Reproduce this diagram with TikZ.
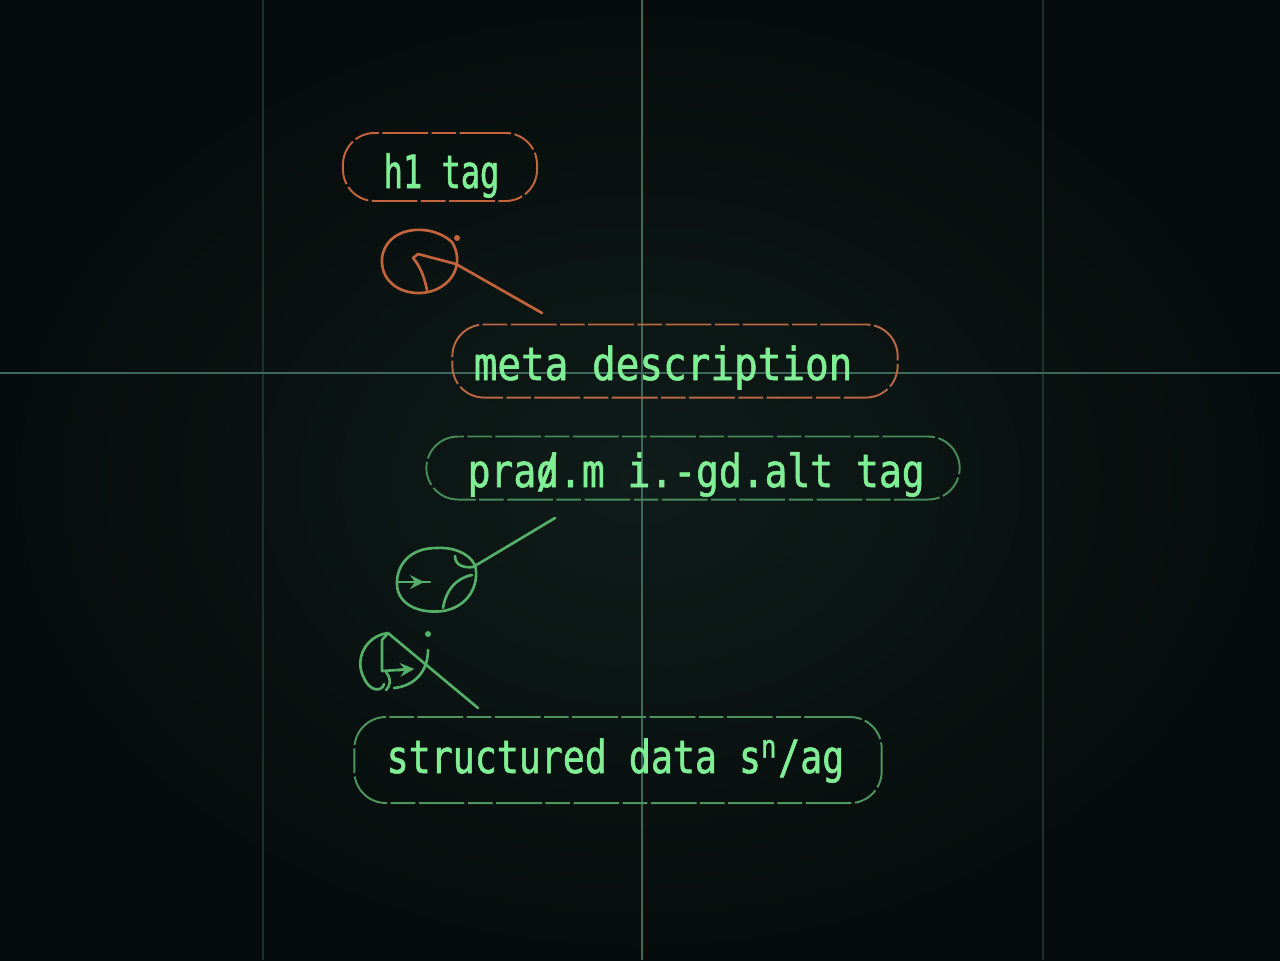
\documentclass[tikz,border=0pt]{standalone}
\usepackage{fontspec}
\newfontfamily\tagfont[FakeStretch=0.86,FakeBold=1.2]{DejaVu Sans Mono}
\newfontfamily\alttagfont[FakeStretch=0.83,FakeBold=1.2]{DejaVu Sans Mono}
\newfontfamily\datatagfont[FakeStretch=0.80,FakeBold=1.2]{DejaVu Sans Mono}
\newfontfamily\htagfont[FakeStretch=0.70,FakeBold=1.2]{DejaVu Sans Mono}
\usetikzlibrary{positioning}
\definecolor{bginner}{RGB}{15,28,25}
\definecolor{bgouter}{RGB}{6,12,11}
\definecolor{gridfaint}{RGB}{28,50,42}
\definecolor{gridmain}{RGB}{62,104,88}
\definecolor{tagtextcol}{RGB}{128,238,148}
\definecolor{penorange}{RGB}{196,100,60}
\definecolor{pengreen}{RGB}{84,176,104}
\definecolor{boxgreen}{RGB}{70,140,88}

\begin{document}
\begin{tikzpicture}[x=0.01cm,y=-0.01cm,
  tagbox/.style={draw=#1,line width=0.55pt,rounded corners=9pt,inner sep=0pt,
    dash pattern=on 13pt off 1pt on 7pt off 1pt},
  tagtext/.style={text=tagtextcol,inner sep=0pt,anchor=base west,
    font=\tagfont\fontsize{13pt}{15pt}\selectfont},
  scribble/.style={draw=#1,line width=0.75pt,line cap=round,line join=round}]
% background
\shade[inner color=bginner,outer color=bgouter] (0,0) rectangle (1280,960);
\useasboundingbox (0,0) rectangle (1280,960);
\draw[gridfaint,line width=0.5pt] (263,0) -- (263,960);
\draw[gridfaint,line width=0.5pt] (1043,0) -- (1043,960);
\draw[gridmain,line width=0.45pt] (642,0) -- (642,960);
\draw[gridmain,line width=0.6pt] (0,373) -- (1280,373);

% tag boxes
\node[tagbox=penorange,minimum width=1.94cm,minimum height=0.68cm] (h1box) at (440,167) {};
\node[tagbox=penorange!85!gray,minimum width=4.45cm,minimum height=0.73cm] (metabox) at (675,361) {};
\node[tagbox=boxgreen,minimum width=5.33cm,minimum height=0.63cm] (altbox) at (693,468) {};
\node[tagbox=boxgreen!90!tagtextcol,minimum width=5.27cm,minimum height=0.86cm] (databox) at (618,760) {};

\node[tagtext,font=\htagfont\fontsize{13pt}{15pt}\selectfont] (h1) at (383,188) {h1 tag};
\node[tagtext] (meta) at (473,380) {meta description};
\node[tagtext,font=\alttagfont\fontsize{13pt}{15pt}\selectfont] (alt) at (467,487) {pra\rlap{d}/.m i.-gd.alt tag};
\node[tagtext,font=\datatagfont\fontsize{13pt}{15pt}\selectfont] (data) at (386,773) {structured data s\textsuperscript{n}/ag};

% pins
\coordinate (h1pin) at (418,254);
\coordinate (h1end) at (542,313);
\coordinate (altpin) at (473,567);
\coordinate (altend) at (555,518);
\coordinate (datapin) at (388,633);
\coordinate (dataend) at (478,708);

\draw[scribble=penorange] (452,242) .. controls (430,222) and (386,226) .. (382,258)
  .. controls (380,287) and (410,298) .. (432,291)
  .. controls (454,284) and (464,262) .. (452,242);
\fill[penorange] (457,238) circle (3);
\draw[scribble=penorange] (h1pin) -- (413,258) .. controls (420,266) and (424,276) .. (427,290);
\draw[scribble=penorange] (h1pin) -- (456,264) -- (h1end);

\draw[scribble=pengreen] (436,548) .. controls (410,548) and (396,565) .. (397,585)
  .. controls (398,605) and (420,614) .. (443,611)
  .. controls (468,607) and (480,585) .. (475,565)
  .. controls (468,552) and (452,547) .. (436,548);
\draw[scribble=pengreen] (398,582) -- (430,582);
\draw[scribble=pengreen,-stealth] (410,582) -- (424,582);
\draw[scribble=pengreen] (443,608) .. controls (446,590) and (456,578) .. (472,575);
\draw[scribble=pengreen] (455,556) .. controls (455,566) and (465,568) .. (altpin);
\draw[scribble=pengreen] (altpin) -- (altend);

\draw[scribble=pengreen] (datapin) .. controls (365,636) and (354,660) .. (364,678)
  .. controls (370,692) and (382,692) .. (384,684);
\draw[scribble=pengreen] (394,688) .. controls (414,686) and (428,672) .. (428,650);
\fill[pengreen] (428,634) circle (3);
\draw[scribble=pengreen] (datapin) -- (382,640) -- (382,671) -- (412,669);
\draw[scribble=pengreen,-stealth] (398,670) -- (414,669);
\draw[scribble=pengreen] (386,672) .. controls (392,680) and (390,686) .. (386,690);
\draw[scribble=pengreen] (datapin) -- (dataend);
\end{tikzpicture}
\end{document}
